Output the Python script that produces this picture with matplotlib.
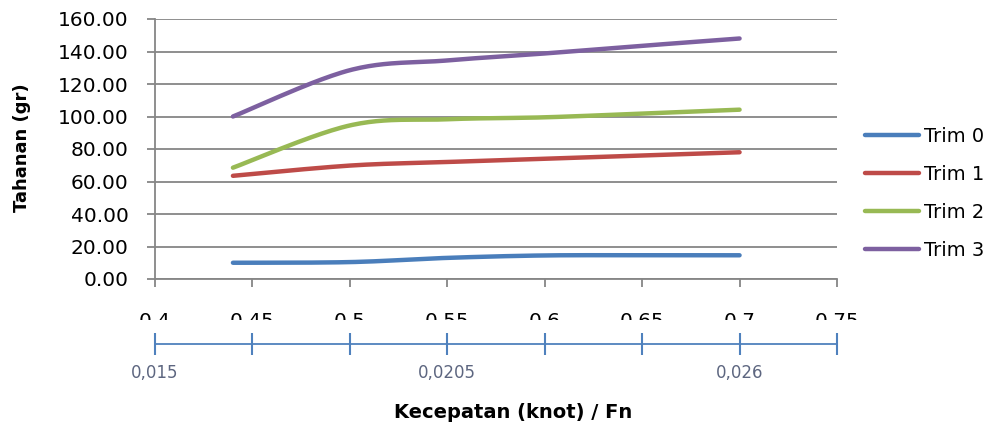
import numpy as np
import matplotlib
matplotlib.use("Agg")
import matplotlib.pyplot as plt
from matplotlib.patches import Rectangle

plt.rcParams['font.family'] = ['DejaVu Sans']

# ---------------- data ----------------
fn = [0.44, 0.50, 0.55, 0.60, 0.65, 0.70]
trim0 = [10.0, 10.4, 13.0, 14.5, 14.6, 14.6]
trim1 = [63.5, 69.8, 72.0, 74.0, 76.0, 78.0]
trim2 = [68.5, 94.5, 98.3, 99.5, 101.8, 104.2]
trim3 = [100.0, 128.5, 134.5, 138.8, 143.5, 148.0]
series_names = ["Trim 0", "Trim 1", "Trim 2", "Trim 3"]
series_colors = ["#4a7ebb", "#be4b48", "#98b954", "#7d60a0"]

x_ticks = [0.40, 0.45, 0.50, 0.55, 0.60, 0.65, 0.70, 0.75]
x_ticklabels = ["0.4", "0.45", "0.5", "0.55", "0.6", "0.65", "0.7", "0.75"]
y_ticks = [0, 20, 40, 60, 80, 100, 120, 140, 160]
knot_ticks = [0.40, 0.45, 0.50, 0.55, 0.60, 0.65, 0.70, 0.75]
knot_labels = ["0,015", "", "", "0,0205", "", "", "0,026", ""]

W, H = 994, 430
fig = plt.figure(figsize=(W / 100, H / 100), dpi=100)

def fx(px):
    return px / W

def fy(py):
    return 1 - py / H

L, R, T, B = 155, 837, 19, 279
ax = fig.add_axes([fx(L), fy(B), fx(R) - fx(L), fy(T) - fy(B)])
ax.set_xlim(0.40, 0.75)
ax.set_ylim(0, 160)


def smooth(xs, ys, sx, sy, n=40):
    """Excel-like Bezier smoothing through the data points (rendering only)."""
    P = np.column_stack([np.asarray(xs) * sx, np.asarray(ys) * sy])
    out = []
    m = len(P)
    for i in range(m - 1):
        p0 = P[i - 1] if i > 0 else P[i]
        p1 = P[i]
        p2 = P[i + 1]
        p3 = P[i + 2] if i + 2 < m else P[i + 1]
        c1 = p1 + (p2 - p0) / 6.0
        c2 = p2 - (p3 - p1) / 6.0
        t = np.linspace(0, 1, n)[:, None]
        seg = ((1 - t) ** 3) * p1 + 3 * ((1 - t) ** 2) * t * c1 + 3 * (1 - t) * t ** 2 * c2 + t ** 3 * p2
        out.append(seg if i == 0 else seg[1:])
    out = np.vstack(out)
    return out[:, 0] / sx, out[:, 1] / sy

sx = (R - L) / 0.35
sy = (B - T) / 160.0
for vals, name, col in zip([trim0, trim1, trim2, trim3], series_names, series_colors):
    xs, ys = smooth(fn, vals, sx, sy)
    ax.plot(xs, ys, color=col, lw=3.2, solid_capstyle='round', label=name, zorder=3)

grid_c = "#868686"
ax.set_yticks(y_ticks)
ax.set_yticklabels([f"{v:.2f}" for v in y_ticks])
ax.set_xticks(x_ticks)
ax.set_xticklabels(x_ticklabels)
ax.yaxis.grid(True, color=grid_c, lw=1.3)
ax.set_axisbelow(True)
for s in ["top", "right"]:
    ax.spines[s].set_visible(False)
for s in ["left", "bottom"]:
    ax.spines[s].set_color(grid_c)
    ax.spines[s].set_linewidth(1.3)
ax.tick_params(axis='y', direction='out', length=6, width=1.3, color=grid_c,
               labelsize=14.5, pad=13, labelcolor='black')
ax.tick_params(axis='x', direction='out', length=6, width=1.3, color=grid_c,
               labelsize=14.5, pad=18, labelcolor='black')

# white band hiding the lower part of the x tick labels
fig.patches.append(Rectangle((0, fy(341)), 1, fy(320) - fy(341), transform=fig.transFigure,
                             facecolor='white', edgecolor='none', zorder=5))

# secondary (knot) axis line
ax2 = fig.add_axes([fx(L), fy(343.5), fx(R) - fx(L), 0.0001], zorder=10)
ax2.patch.set_visible(False)
ax2.set_xlim(0.40, 0.75)
ax2.set_yticks([])
for s in ["top", "right", "left"]:
    ax2.spines[s].set_visible(False)
ax2.spines["bottom"].set_color("#4f81bd")
ax2.spines["bottom"].set_linewidth(1.3)
ax2.set_xticks(knot_ticks)
ax2.set_xticklabels(knot_labels)
ax2.tick_params(axis='x', direction='inout', length=16, width=1.5, color="#4f81bd",
                labelsize=12, pad=7, labelcolor="#5d6680")

# axis titles
fig.text(fx(513), fy(413), "Kecepatan (knot) / Fn", ha='center', va='center',
         fontsize=14, fontweight='bold')
fig.text(fx(22), fy(148), "Tahanan (gr)", ha='center', va='center', rotation=90,
         fontsize=13, fontweight='bold')

# legend
fig.legend(loc='upper left', bbox_to_anchor=(fx(865), fy(127)), frameon=False,
           fontsize=14, handlelength=2.8, handletextpad=0.25, labelspacing=0.98,
           borderpad=0, borderaxespad=0)

fig.savefig("out.png", dpi=100)
